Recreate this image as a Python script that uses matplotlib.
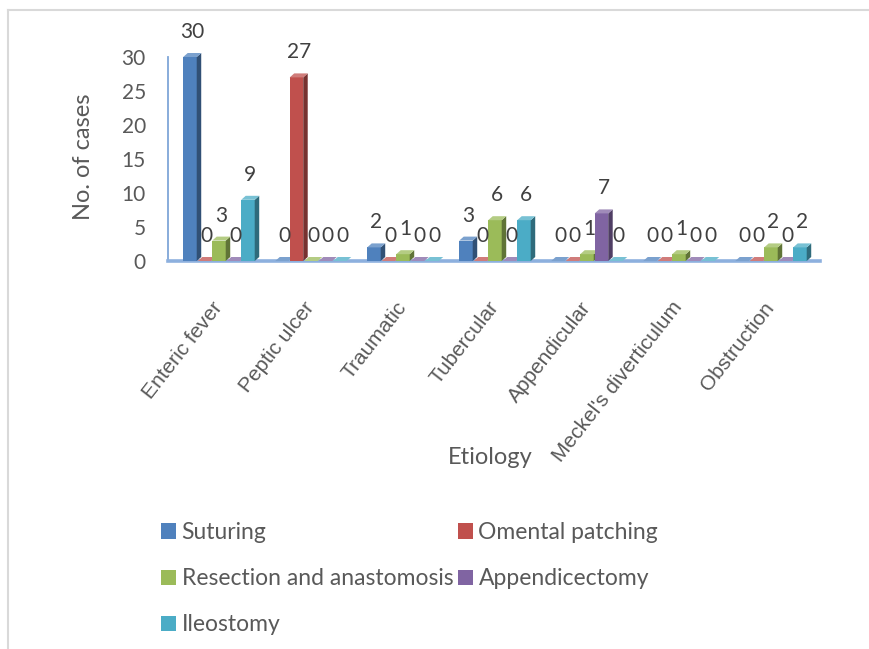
import matplotlib
matplotlib.use("Agg")
import matplotlib.pyplot as plt
import matplotlib.colors as mcolors
from matplotlib.patches import Polygon, Patch
from matplotlib.lines import Line2D

# ---- data ---------------------------------------------------------------
etiologies = ["Enteric fever", "Peptic ulcer", "Traumatic", "Tubercular",
              "Appendicular", "Meckel's diverticulum", "Obstruction"]
procedures = ["Suturing", "Omental patching", "Resection and anastomosis",
              "Appendicectomy", "Ileostomy"]
suturing = [30, 0, 2, 3, 0, 0, 0]
omental_patching = [0, 27, 0, 0, 0, 0, 0]
resection_anastomosis = [3, 0, 1, 6, 1, 1, 2]
appendicectomy = [0, 0, 0, 0, 7, 0, 0]
ileostomy = [9, 0, 0, 6, 0, 0, 2]
y_ticks = [0, 5, 10, 15, 20, 25, 30]

series = [suturing, omental_patching, resection_anastomosis, appendicectomy, ileostomy]
colors = ["#4F81BD", "#C0504D", "#9BBB59", "#8064A2", "#4BACC6"]

# ---- figure ---------------------------------------------------------------
W, H = 870, 649
fig = plt.figure(figsize=(W / 100, H / 100), dpi=100)
fig.patch.set_facecolor("white")

TXT = "#595959"
LBL = "#404040"
SANS = ["Lato", "DejaVu Sans"]
ARIAL = ["Liberation Sans", "DejaVu Sans"]

# light outer frame (top and left edges)
fig.add_artist(Line2D([8 / W, 1], [1 - 10 / H, 1 - 10 / H], transform=fig.transFigure,
                      color="#D9D9D9", lw=1.5))
fig.add_artist(Line2D([8 / W, 8 / W], [0, 1 - 10 / H], transform=fig.transFigure,
                      color="#D9D9D9", lw=1.5))

ax_l, ax_r, ax_t, ax_b = 168, 820, 57, 261
ax = fig.add_axes([ax_l / W, 1 - ax_b / H, (ax_r - ax_l) / W, (ax_b - ax_t) / H])
x_lo, x_hi = -0.554, 6.533
ax.set_xlim(x_lo, x_hi)
ax.set_ylim(0, 30)
ax.patch.set_alpha(0)

px_x = (ax_r - ax_l) / (x_hi - x_lo)      # pixels per category unit
px_y = (ax_b - ax_t) / 30.0               # pixels per case

step = 14.5 / px_x
front_w = 13.5 / px_x
dx = 4.5 / px_x
dy = 4.0 / px_y


def shade(c, f):
    r, g, b = mcolors.to_rgb(c)
    if f < 1:
        return (r * f, g * f, b * f)
    return tuple(min(1, v + (1 - v) * (f - 1)) for v in (r, g, b))


for i in range(len(etiologies)):
    for j, (vals, col) in enumerate(zip(series, colors)):
        v = vals[i]
        xc = i + (j - 2) * step
        z = 3 + i * 0.01 + j * 0.001
        xl, xr = xc - front_w / 2, xc + front_w / 2
        ax.bar(xc, v, width=front_w, color=col, edgecolor="none", zorder=z, clip_on=False)
        side = Polygon([(xr, 0), (xr + dx, dy), (xr + dx, v + dy), (xr, v)],
                       closed=True, facecolor=shade(col, 0.62), edgecolor="none",
                       zorder=z, clip_on=False)
        top = Polygon([(xl, v), (xr, v), (xr + dx, v + dy), (xl + dx, v + dy)],
                      closed=True, facecolor=shade(col, 1.25), edgecolor="none",
                      zorder=z, clip_on=False)
        ax.add_patch(side)
        ax.add_patch(top)
        ax.annotate(str(v), (xc + dx / 2, v), xytext=(0, 25), textcoords="offset pixels",
                    ha="center", va="center", fontsize=15, color=LBL, family=SANS,
                    annotation_clip=False, zorder=10)

# axes lines
for s in ("top", "right"):
    ax.spines[s].set_visible(False)
ax.spines["left"].set_color("#7FA6D8")
ax.spines["left"].set_linewidth(1.3)
ax.spines["bottom"].set_color("#8DB0DE")
ax.spines["bottom"].set_linewidth(2.6)
ax.spines["bottom"].set_zorder(2)
ax.spines["left"].set_zorder(2)

ax.set_yticks(y_ticks)
ax.set_yticklabels([str(t) for t in y_ticks], fontsize=15, color=TXT, family=SANS)
ax.tick_params(axis="y", length=0, pad=16)

ax.set_xticks(range(len(etiologies)))
ax.set_xticklabels(etiologies, rotation=52, ha="right", va="center",
                   rotation_mode="anchor", fontsize=15, color=TXT, family=ARIAL)
ax.tick_params(axis="x", length=0, pad=31)

fig.text(84 / W, 1 - 157 / H, "No. of cases", rotation=90, ha="center", va="center",
         fontsize=17, color=TXT, family=SANS)
fig.text(490 / W, 1 - 457 / H, "Etiology", ha="center", va="center",
         fontsize=17, color=TXT, family=SANS)

# legend laid out row by row (two columns)
order = [0, 2, 4, 1, 3]
handles = [Patch(facecolor=colors[k], edgecolor="none") for k in order]
labels = [procedures[k] for k in order]
leg = fig.legend(handles, labels, ncol=2, loc="upper left",
                 bbox_to_anchor=(161 / W, 1 - 522 / H), frameon=False,
                 prop={"family": SANS, "size": 16.5}, handlelength=0.65, handleheight=0.65,
                 handletextpad=0.25, columnspacing=0.2, labelspacing=1.1,
                 borderpad=0, borderaxespad=0)
for t in leg.get_texts():
    t.set_color(TXT)

fig.savefig("out.png", dpi=100, facecolor="white")
